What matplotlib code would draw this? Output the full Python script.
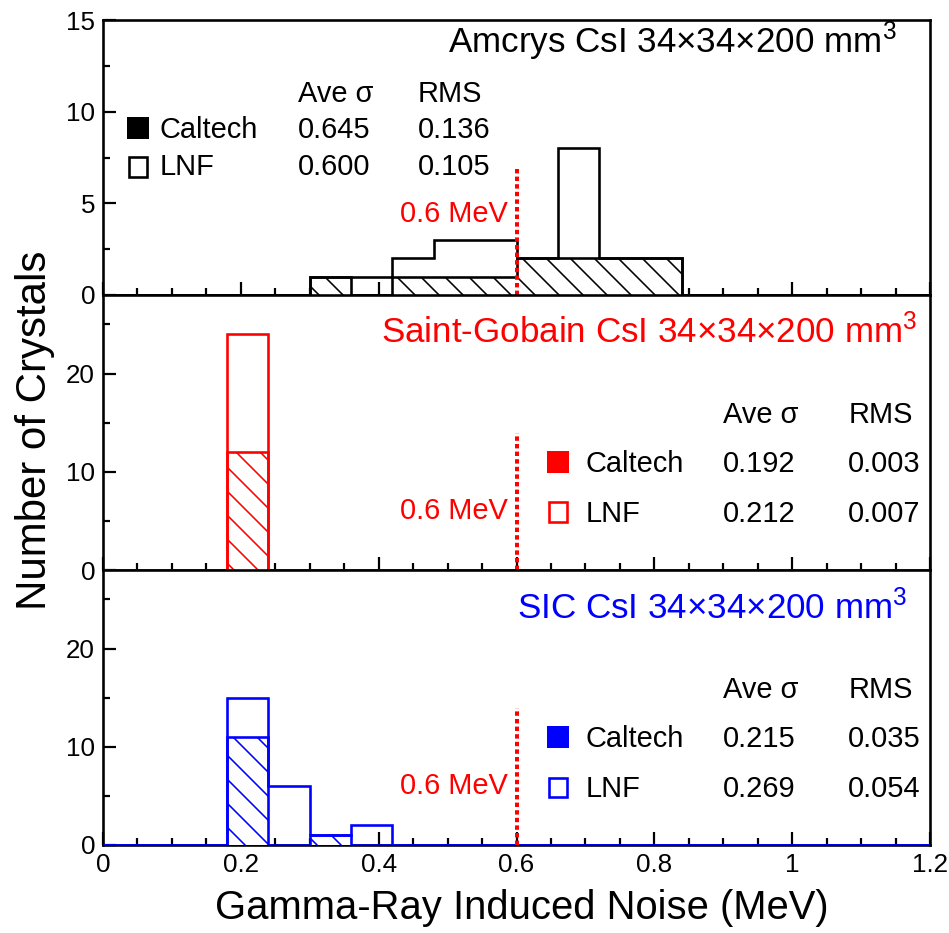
import matplotlib
matplotlib.use("Agg")
import matplotlib.pyplot as plt
from matplotlib.patches import Rectangle
from matplotlib.ticker import MultipleLocator, FuncFormatter

plt.rcParams['font.family'] = ['Liberation Sans', 'DejaVu Sans']
plt.rcParams['mathtext.fontset'] = 'custom'
plt.rcParams['mathtext.rm'] = 'Liberation Sans'
plt.rcParams['mathtext.it'] = 'Liberation Sans:italic'
plt.rcParams['mathtext.bf'] = 'Liberation Sans:bold'
plt.rcParams['hatch.linewidth'] = 1.6

# ---------------- data ----------------
bin_edges = [0.00, 0.06, 0.12, 0.18, 0.24, 0.30, 0.36, 0.42, 0.48, 0.54, 0.60,
             0.66, 0.72, 0.78, 0.84, 0.90, 0.96, 1.02, 1.08, 1.14, 1.20]

caltech_amcrys = [0, 0, 0, 0, 0, 1, 0, 1, 1, 1, 2, 2, 2, 2, 0, 0, 0, 0, 0, 0]
lnf_amcrys     = [0, 0, 0, 0, 0, 1, 1, 2, 3, 3, 2, 8, 2, 2, 0, 0, 0, 0, 0, 0]

caltech_sg = [0, 0, 0, 12, 0, 0, 0, 0, 0, 0, 0, 0, 0, 0, 0, 0, 0, 0, 0, 0]
lnf_sg     = [0, 0, 0, 24, 0, 0, 0, 0, 0, 0, 0, 0, 0, 0, 0, 0, 0, 0, 0, 0]

caltech_sic = [0, 0, 0, 11, 0, 1, 0, 0, 0, 0, 0, 0, 0, 0, 0, 0, 0, 0, 0, 0]
lnf_sic     = [0, 0, 0, 15, 6, 1, 2, 0, 0, 0, 0, 0, 0, 0, 0, 0, 0, 0, 0, 0]

panel_titles = ["Amcrys CsI 34×34×200 mm$^3$",
                "Saint-Gobain CsI 34×34×200 mm$^3$",
                "SIC CsI 34×34×200 mm$^3$"]
ave_caltech = ["0.645", "0.192", "0.215"]
rms_caltech = ["0.136", "0.003", "0.035"]
ave_lnf = ["0.600", "0.212", "0.269"]
rms_lnf = ["0.105", "0.007", "0.054"]
threshold = 0.6
threshold_label = "0.6 MeV"
threshold_line_top = [7, 14, 14]
y_limits = [15, 28, 28]

x_label = "Gamma-Ray Induced Noise (MeV)"
y_label = "Number of Crystals"

# ---------------- styling / layout ----------------
colors = ['black', '#ff0000', '#0000ff']
caltech_sets = [caltech_amcrys, caltech_sg, caltech_sic]
lnf_sets = [lnf_amcrys, lnf_sg, lnf_sic]
y_major = [5, 10, 10]
y_minor = [2.5, 5, 5]

W, H = 949, 933
fig = plt.figure(figsize=(W / 72, H / 72), dpi=72)
gs = fig.add_gridspec(3, 1, hspace=0, left=103 / W, right=930 / W,
                      top=1 - 20 / H, bottom=1 - 845 / H)

title_pos = [(0.960, 0.880), (0.985, 0.825), (0.973, 0.822)]
leg_x = [(0.029, 0.068, 0.236, 0.381), (0.537, 0.584, 0.750, 0.901), (0.537, 0.584, 0.750, 0.901)]
leg_y = [(0.702, 0.571, 0.436), (0.535, 0.356, 0.175), (0.535, 0.356, 0.175)]
sq_y = [(0.607, 0.468), (0.393, 0.215), (0.391, 0.213)]
mev_y = [0.265, 0.185, 0.185]

LW = 2.6
axes = []
for i in range(3):
    ax = fig.add_subplot(gs[i, 0])
    axes.append(ax)
    c = colors[i]
    ax.stairs(caltech_sets[i], bin_edges, fill=True, facecolor='white',
              edgecolor=c, hatch='\\', lw=LW, zorder=2)
    ax.stairs(lnf_sets[i], bin_edges, fill=False, color=c, lw=LW, zorder=3)
    ax.plot([threshold, threshold], [0, threshold_line_top[i]], color='#ff0000',
            lw=4, ls=(0, (1.1, 0.8)), zorder=6, solid_capstyle='butt')

    ax.set_xlim(0, 1.2)
    ax.set_ylim(0, y_limits[i])
    ax.xaxis.set_major_locator(MultipleLocator(0.2))
    ax.xaxis.set_minor_locator(MultipleLocator(0.05))
    ax.yaxis.set_major_locator(MultipleLocator(y_major[i]))
    ax.yaxis.set_minor_locator(MultipleLocator(y_minor[i]))
    ax.tick_params(which='both', direction='in', top=False, right=False,
                   width=2.2, labelsize=26, pad=8, colors='black')
    ax.tick_params(which='major', length=13)
    ax.tick_params(which='minor', length=7)
    if i == 0:
        ax.set_yticks([0, 5, 10, 15])
    else:
        ax.set_yticks([0, 10, 20])
    if i < 2:
        ax.tick_params(axis='x', labelbottom=False)
    else:
        ax.xaxis.set_major_formatter(FuncFormatter(lambda v, p: f"{v:g}"))
    for s in ax.spines.values():
        s.set_linewidth(2.6)
        s.set_zorder(1)

    # panel title
    tx, ty = title_pos[i]
    ax.text(tx, ty, panel_titles[i], transform=ax.transAxes, ha='right',
            va='baseline', fontsize=35, color=c)

    # stats legend
    sx, nx, ax_ave, ax_rms = leg_x[i]
    hy, cy, ly = leg_y[i]
    fs = 29
    ax.text(ax_ave, hy, "Ave σ", transform=ax.transAxes, fontsize=fs, va='baseline')
    ax.text(ax_rms, hy, "RMS", transform=ax.transAxes, fontsize=fs, va='baseline')
    ax.text(nx, cy, "Caltech", transform=ax.transAxes, fontsize=fs, va='baseline')
    ax.text(ax_ave, cy, ave_caltech[i], transform=ax.transAxes, fontsize=fs, va='baseline')
    ax.text(ax_rms, cy, rms_caltech[i], transform=ax.transAxes, fontsize=fs, va='baseline')
    ax.text(nx, ly, "LNF", transform=ax.transAxes, fontsize=fs, va='baseline')
    ax.text(ax_ave, ly, ave_lnf[i], transform=ax.transAxes, fontsize=fs, va='baseline')
    ax.text(ax_rms, ly, rms_lnf[i], transform=ax.transAxes, fontsize=fs, va='baseline')

    sw, sh = 22 / 827, 22 / 275
    scy, sly = sq_y[i]
    ax.add_patch(Rectangle((sx, scy - sh / 2), sw, sh, transform=ax.transAxes,
                           facecolor=c, edgecolor=c, lw=0, clip_on=False))
    ax.add_patch(Rectangle((sx + 0.002, sly - sh / 2), sw - 0.004, sh - 0.008,
                           transform=ax.transAxes, facecolor='white', edgecolor=c,
                           lw=2.6, clip_on=False))

    ax.text(0.490, mev_y[i], threshold_label, transform=ax.transAxes, ha='right',
            va='baseline', fontsize=29, color='#ff0000')

fig.text(35 / W, 1 - 430 / H, y_label, rotation=90, ha='center', va='center', fontsize=42)
fig.text(522 / W, 1 - 908 / H, x_label, ha='center', va='center', fontsize=40)

fig.savefig("out.png", dpi=72, facecolor='white')
